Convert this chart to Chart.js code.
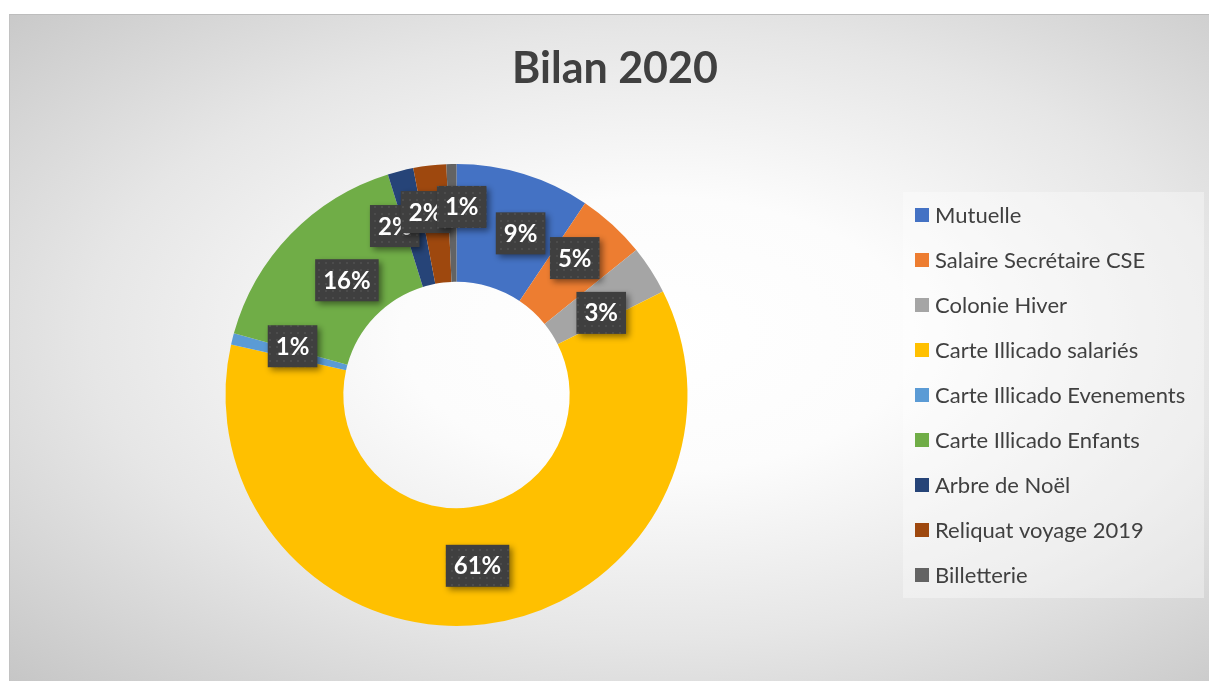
<!DOCTYPE html>
<html><head><meta charset="utf-8">
<script src="https://cdn.jsdelivr.net/npm/chart.js@4.4.1/dist/chart.umd.min.js"></script>
<style>
html,body{margin:0;padding:0;background:#fff;width:1209px;height:681px;overflow:hidden}
#frame{position:absolute;left:9px;top:14px;width:1200px;height:667px;box-sizing:border-box;
 border-top:1px solid #bdbdbd;border-left:1px solid #c2c2c2;
 background:radial-gradient(ellipse farthest-corner at 54% 48%, #ffffff 0%, #fcfcfc 28%, #e6e6e6 62%, #c6c6c6 100%);}
#c{position:absolute;left:0;top:0}
</style></head><body>
<div id="frame"></div>
<canvas id="c" width="1209" height="681"></canvas>
<script>
const chartTitle = 'Bilan 2020';
const categories = ['Mutuelle','Salaire Secrétaire CSE','Colonie Hiver','Carte Illicado salariés','Carte Illicado Evenements','Carte Illicado Enfants','Arbre de Noël','Reliquat voyage 2019','Billetterie'];
const values = [9.4, 4.8, 3.4, 60.9, 0.8, 15.9, 1.8, 2.3, 0.7];
const colors = ['#4472C4','#ED7D31','#A5A5A5','#FFC000','#5B9BD5','#70AD47','#264478','#9E480E','#636363'];
// label placement nudges (px) relative to each slice's centroid, like Excel's label layout
const labelNudges = [[14,3],[2,-10],[0,11],[0,0],[3,-7],[14,5],[-20,-2],[-11,-12],[9,-16]];

function makePattern(ctx){
  const t=document.createElement('canvas'); t.width=7; t.height=7;
  const c=t.getContext('2d');
  c.fillStyle='#3f3f3f'; c.fillRect(0,0,7,7);
  c.fillStyle='#4c4c4c'; c.fillRect(3,3,2,2);
  return ctx.createPattern(t,'repeat');
}

const decorPlugin = {
  id:'decor',
  afterDraw(chart){
    const ctx=chart.ctx;
    ctx.save();
    // title
    ctx.fillStyle='#404040';
    ctx.font='bold 43px Lato';
    ctx.textAlign='center'; ctx.textBaseline='alphabetic';
    ctx.fillText(chartTitle, 615, 83);
    // legend
    ctx.fillStyle='rgba(255,255,255,0.35)';
    ctx.fillRect(903,192,301,406);
    ctx.font='22px Lato'; ctx.textAlign='left';
    const labels=chart.data.labels, bg=chart.data.datasets[0].backgroundColor;
    labels.forEach((l,i)=>{
      const y=215+45*i;
      ctx.fillStyle=bg[i]; ctx.fillRect(915,y-7,14,14);
      ctx.fillStyle='#404040'; ctx.fillText(l,935,y+7.5);
    });
    ctx.restore();
  },
  afterDatasetsDraw(chart){
    const ctx=chart.ctx;
    const meta=chart.getDatasetMeta(0);
    const data=chart.data.datasets[0].data;
    const total=data.reduce((a,b)=>a+b,0);
    const pat=makePattern(ctx);
    ctx.save();
    ctx.font='bold 24px Lato';
    meta.data.forEach((arc,i)=>{
      const p=arc.tooltipPosition();
      const n=labelNudges[i]||[0,0];
      const cx=p.x+n[0], cy=p.y+n[1];
      const txt=Math.round(data[i]/total*100)+'%';
      const w=ctx.measureText(txt).width+16, h=42;
      ctx.save();
      ctx.shadowColor='rgba(0,0,0,0.45)'; ctx.shadowBlur=6; ctx.shadowOffsetX=3; ctx.shadowOffsetY=3;
      ctx.fillStyle=pat; ctx.fillRect(cx-w/2,cy-h/2,w,h);
      ctx.restore();
      ctx.fillStyle='#ffffff'; ctx.textAlign='center'; ctx.textBaseline='alphabetic';
      ctx.fillText(txt,cx,cy+8.5);
    });
    ctx.restore();
  }
};

function build(){
  new Chart(document.getElementById('c'),{
    type:'doughnut',
    data:{labels:categories,datasets:[{data:values,backgroundColor:colors,borderWidth:0}]},
    options:{
      responsive:false, animation:false, devicePixelRatio:1,
      cutout:'49%',
      layout:{padding:{left:225.5,right:521.5,top:164,bottom:55}},
      plugins:{legend:{display:false},title:{display:false},tooltip:{enabled:false}}
    },
    plugins:[decorPlugin]
  });
}
Promise.all([document.fonts.load('bold 43px Lato'),document.fonts.load('22px Lato'),document.fonts.load('bold 24px Lato')]).then(build,build);
</script>
</body></html>
